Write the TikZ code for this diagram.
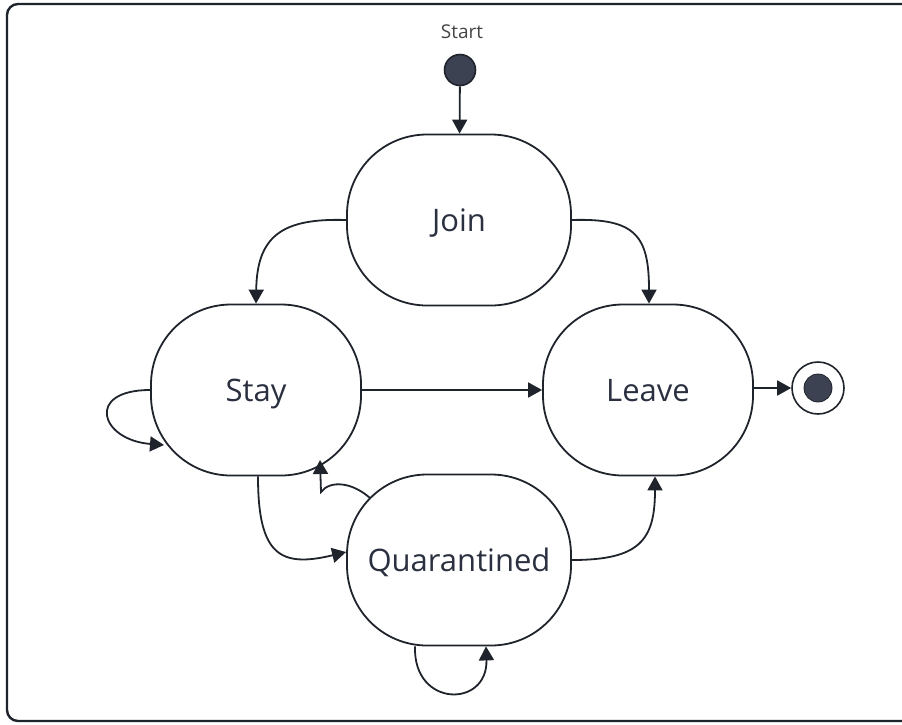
\documentclass[tikz,border=0pt]{standalone}
\usepackage{fontspec}
\setmainfont{Open Sans}
\usetikzlibrary{arrows.meta,calc}

\definecolor{ink}{HTML}{1F232B}
\definecolor{labelink}{HTML}{2B3040}
\definecolor{dotfill}{HTML}{3C4252}
\definecolor{smallink}{HTML}{444444}

\tikzset{
  statebox/.style={draw=ink, line width=1.8pt, rounded corners=80pt,
    minimum width=224pt, minimum height=171pt, inner sep=0pt,
    text height=22pt, text depth=0pt,
    font=\fontsize{31}{35}\selectfont, text=labelink},
  narrowstate/.style={statebox, minimum width=210pt},
  flow/.style={draw=ink, line width=1.8pt,
    -{Triangle[length=14pt,width=15pt]}},
  initdot/.style={circle, draw=ink, line width=1.6pt, fill=dotfill,
    minimum size=31pt, inner sep=0pt},
  finalring/.style={circle, draw=ink, line width=1.6pt, fill=white,
    minimum size=52pt, inner sep=0pt},
  finalcore/.style={circle, fill=dotfill, draw=ink, line width=0.8pt,
    minimum size=28pt, inner sep=0pt}
}

\begin{document}
\begin{tikzpicture}[x=1pt, y=-1pt]
  \useasboundingbox (0,0) rectangle (902,724);

  % outer frame, open on the right
  \draw[ink, line width=2.4pt, rounded corners=11pt]
    (902,4) -- (7,4) -- (7,721) -- (902,721);

  % initial pseudo-state
  \node[initdot] (start) at (460,70) {};
  \node[font=\fontsize{19}{22}\selectfont, text=smallink] (startlbl) at (462,32) {Start};

  % states
  \node[statebox]    (join)  at (459,220) {Join};
  \node[narrowstate] (stay)  at (256,390) {Stay};
  \node[narrowstate] (leave) at (648,390) {Leave};
  \node[statebox]    (quar)  at (459,560) {Quarantined};

  % final pseudo-state
  \node[finalring] (final) at (818,388) {};
  \node[finalcore] (finalin) at (final.center) {};

  % points on the rounded borders used by the self loops
  \coordinate (stayLoopEnd) at (164,445);
  \coordinate (quarOut) at (370,498);
  \coordinate (stayIn) at (320,460);

  % transitions
  \draw[flow] (start) -- (join);
  \draw[flow] (join.west) .. controls (282,218) and (257,236) .. (stay.north);
  \draw[flow] (join.east) .. controls (636,218) and (649,236) .. ([xshift=1pt]leave.north);
  \draw[flow] (stay.east) -- (leave.west);
  \draw[flow] (leave.east |- final.west) -- (final.west);
  \draw[flow] (stay.west) .. controls (85,390) and (100,440) .. (stayLoopEnd);
  \draw[flow] ([xshift=2pt]stay.south) .. controls (258,555) and (280,568) .. ([yshift=8pt]quar.west);
  \draw[flow] (quarOut) .. controls (352,482) and (330,480) .. (321,492) -- (stayIn);
  \draw[flow] (quar.east) .. controls (640,560) and (655,540) .. ([xshift=7pt]leave.south);
  \draw[flow] ([xshift=-44pt]quar.south) .. controls (413,708) and (488,708) .. ([xshift=27pt]quar.south);
\end{tikzpicture}
\end{document}
